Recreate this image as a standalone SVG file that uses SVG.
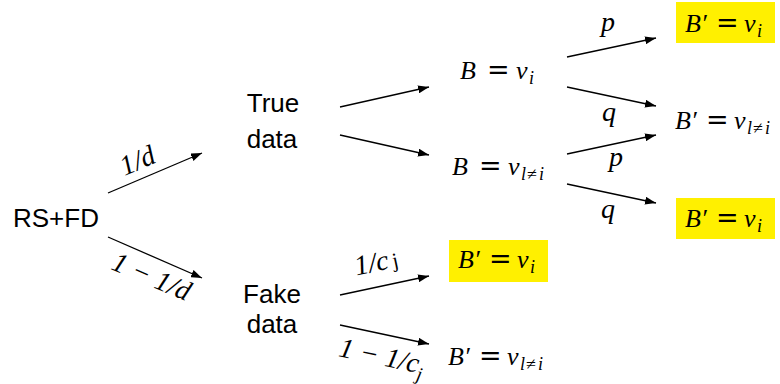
<svg xmlns="http://www.w3.org/2000/svg" width="780" height="384" viewBox="0 0 780 384">
<defs>
<marker id="ah" markerUnits="userSpaceOnUse" markerWidth="11" markerHeight="8" refX="11" refY="4" orient="auto">
<path d="M0,0 L11,4 L0,8 z" fill="#000"/>
</marker>
<style>
.s{font-family:"Liberation Sans",Arial,sans-serif;font-size:26px;fill:#000}
.m{font-family:"Liberation Serif","Times New Roman",serif;font-size:26px;fill:#000}
.i{font-style:italic}
.eq{font-family:"DejaVu Serif",serif;font-size:27px;font-style:normal}
.sb{font-size:18px}
.lb{font-family:"Liberation Serif","Times New Roman",serif;font-size:28px;font-style:italic;fill:#000}
.hl{fill:#FFF000}
.c line{stroke:#000;stroke-width:1.3;marker-end:url(#ah)}
</style>
</defs>
<rect width="780" height="384" fill="#fff"/>

<g id="connectors" class="c">
<line x1="108" y1="193" x2="202" y2="153"/>
<line x1="108" y1="237" x2="202" y2="278"/>
<line x1="340" y1="107" x2="429" y2="87"/>
<line x1="340" y1="135" x2="429" y2="155"/>
<line x1="567" y1="57" x2="656" y2="38"/>
<line x1="567" y1="87" x2="656" y2="106"/>
<line x1="567" y1="154" x2="656" y2="135"/>
<line x1="567" y1="184" x2="656" y2="203"/>
<line x1="340" y1="295" x2="429" y2="276"/>
<line x1="340" y1="325" x2="429" y2="344"/>
</g>

<g id="edge-labels">
<text class="lb" transform="translate(141,169) rotate(-23)" text-anchor="middle">1/d</text>
<text class="lb" transform="translate(148,285) rotate(23)" text-anchor="middle">1 − 1/d</text>
<text class="lb" x="608" y="31" text-anchor="middle">p</text>
<text class="lb" x="609" y="121" text-anchor="middle">q</text>
<text class="lb" x="616" y="166" text-anchor="middle">p</text>
<text class="lb" x="608" y="218" text-anchor="middle">q</text>
<text class="lb" transform="translate(378,271) rotate(-12)" text-anchor="middle">1/c<tspan font-style="normal" font-size="21" dx="4">j</tspan></text>
<text class="lb" transform="translate(380,365) rotate(12)" text-anchor="middle">1 − 1/c<tspan font-size="19" dy="7">j</tspan></text>
</g>

<g id="rsfd"><text class="s" x="13" y="227" font-size="27">RS+FD</text></g>
<g id="true-data"><text class="s" text-anchor="middle" x="273" y="112">True</text><text class="s" text-anchor="middle" x="272" y="148">data</text></g>
<g id="fake-data"><text class="s" text-anchor="middle" x="272" y="303">Fake</text><text class="s" text-anchor="middle" x="272" y="333">data</text></g>

<g id="b-vi">
<text class="m"><tspan class="i" x="460" y="79">B</tspan><tspan class="eq" x="487" y="79">=</tspan><tspan class="i" x="516" y="79">v</tspan><tspan class="i sb" x="529" y="84">i</tspan></text>
</g>
<g id="b-vl">
<text class="m"><tspan class="i" x="452" y="175">B</tspan><tspan class="eq" x="479" y="175">=</tspan><tspan class="i" x="508" y="175">v</tspan><tspan class="i sb" x="521" y="180">l</tspan><tspan class="sb" x="527" y="180">≠</tspan><tspan class="i sb" x="539" y="180">i</tspan></text>
</g>

<g id="top-right">
<rect class="hl" x="676" y="2" width="99" height="41"/>
<text class="m"><tspan class="i" x="685" y="32">B′</tspan><tspan class="eq" x="716" y="32">=</tspan><tspan class="i" x="744" y="32">v</tspan><tspan class="i sb" x="757" y="37">i</tspan></text>
</g>
<g id="mid-right">
<text class="m"><tspan class="i" x="675" y="129">B′</tspan><tspan class="eq" x="706" y="129">=</tspan><tspan class="i" x="734" y="129">v</tspan><tspan class="i sb" x="747" y="134">l</tspan><tspan class="sb" x="753" y="134">≠</tspan><tspan class="i sb" x="765" y="134">i</tspan></text>
</g>
<g id="bottom-right">
<rect class="hl" x="676" y="198" width="99" height="41"/>
<text class="m"><tspan class="i" x="685" y="227">B′</tspan><tspan class="eq" x="716" y="227">=</tspan><tspan class="i" x="744" y="227">v</tspan><tspan class="i sb" x="757" y="232">i</tspan></text>
</g>
<g id="fake-vi">
<rect class="hl" x="449" y="240" width="99" height="42"/>
<text class="m"><tspan class="i" x="458" y="268">B′</tspan><tspan class="eq" x="489" y="268">=</tspan><tspan class="i" x="517" y="268">v</tspan><tspan class="i sb" x="530" y="273">i</tspan></text>
</g>
<g id="fake-vl">
<text class="m"><tspan class="i" x="448" y="365">B′</tspan><tspan class="eq" x="479" y="365">=</tspan><tspan class="i" x="507" y="365">v</tspan><tspan class="i sb" x="520" y="370">l</tspan><tspan class="sb" x="526" y="370">≠</tspan><tspan class="i sb" x="538" y="370">i</tspan></text>
</g>
</svg>
